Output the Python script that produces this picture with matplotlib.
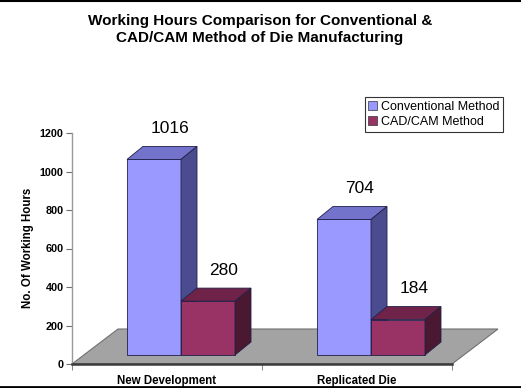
import matplotlib
matplotlib.use("Agg")
import matplotlib.pyplot as plt
from matplotlib.patches import Polygon, Patch
from matplotlib.lines import Line2D

plt.rcParams['font.family'] = ['Liberation Sans', 'DejaVu Sans']

categories = ["New Development", "Replicated Die"]
series_names = ["Conventional Method", "CAD/CAM Method"]
conventional = [1016, 704]
cadcam = [280, 184]
y_ticks = [0, 200, 400, 600, 800, 1000, 1200]

title = "Working Hours Comparison for Conventional &\nCAD/CAM Method of Die Manufacturing"
ylabel = "No. Of Working Hours"

# colours: front, top, side
colors = {
    "Conventional Method": ("#9999FF", "#7373CC", "#4B4B8F"),
    "CAD/CAM Method": ("#993366", "#702348", "#4A1830"),
}

W, H = 521, 388
fig = plt.figure(figsize=(W / 100, H / 100), dpi=100)
ax_left, ax_right, ax_bottom, ax_top = 72, 452, 364, 133
ax = fig.add_axes([ax_left / W, 1 - ax_bottom / H, (ax_right - ax_left) / W, (ax_bottom - ax_top) / H])
ax.set_xlim(0, len(categories))
ax.set_ylim(0, 1200)

pxx = (ax_right - ax_left) / len(categories)   # px per x-unit
pxy = (ax_bottom - ax_top) / 1200.0           # px per y-unit

def dx(px):
    return px / pxx

def dy(px):
    return px / pxy

floor_d = (dx(46), dy(35))
front_off = (dx(14), dy(9))
bar_d = (dx(16), dy(13))
bar_w = dx(54)

# floor
floor = Polygon([(0, 0), (len(categories), 0),
                 (len(categories) + floor_d[0], floor_d[1]), (floor_d[0], floor_d[1])],
                closed=True, facecolor="#A3A3A3", edgecolor="#707070", lw=0.8,
                clip_on=False, zorder=1)
ax.add_patch(floor)

def draw_bar(x0, value, cols):
    front, top, side = cols
    y0 = front_off[1]
    x1 = x0 + bar_w
    y1 = y0 + value
    ec = "#20204A"
    ax.add_patch(Polygon([(x0, y0), (x1, y0), (x1, y1), (x0, y1)], closed=True,
                         facecolor=front, edgecolor=ec, lw=0.6, clip_on=False, zorder=2))
    ax.add_patch(Polygon([(x0, y1), (x1, y1), (x1 + bar_d[0], y1 + bar_d[1]),
                          (x0 + bar_d[0], y1 + bar_d[1])], closed=True,
                         facecolor=top, edgecolor=ec, lw=0.6, clip_on=False, zorder=2))
    ax.add_patch(Polygon([(x1, y0), (x1 + bar_d[0], y0 + bar_d[1]),
                          (x1 + bar_d[0], y1 + bar_d[1]), (x1, y1)], closed=True,
                         facecolor=side, edgecolor=ec, lw=0.6, clip_on=False, zorder=2))
    ax.annotate(f"{value}", xy=((x0 + x1) / 2 + bar_d[0], y1 + bar_d[1]),
                xytext=(0, 13), textcoords="offset points", ha="center", va="center",
                fontsize=12.5, color="black", annotation_clip=False, zorder=5)

for i, cat in enumerate(categories):
    c = i + 0.5 + front_off[0]
    draw_bar(c - bar_w, conventional[i], colors[series_names[0]])
    draw_bar(c, cadcam[i], colors[series_names[1]])

# axes styling
for s in ["top", "right"]:
    ax.spines[s].set_visible(False)
ax.spines["left"].set_color("#9A9A9A")
ax.spines["left"].set_linewidth(1.0)
ax.spines["bottom"].set_color("#3A3A3A")
ax.spines["bottom"].set_linewidth(1.8)
ax.spines["bottom"].set_zorder(3)
ax.set_facecolor("none")

ax.set_yticks(y_ticks)
ax.set_yticklabels([str(t) for t in y_ticks], fontsize=7.8, fontweight="bold")
ax.tick_params(axis="y", direction="out", length=4, color="#707070", pad=2)
ax.set_xticks([i + 0.5 for i in range(len(categories))])
ax.set_xticklabels(categories, fontsize=8.3, fontweight="bold")
ax.set_xticks(list(range(len(categories) + 1)), minor=True)
ax.tick_params(axis="x", which="major", length=0, pad=8)
ax.tick_params(axis="x", which="minor", direction="out", length=4, color="#707070")

fig.text(28 / W, 1 - 248 / H, ylabel, rotation=90, ha="center", va="center",
         fontsize=8.3, fontweight="bold")

fig.text(260 / W, 1 - 29.5 / H, title, ha="center", va="center", fontsize=11,
         fontweight="bold", linespacing=1.3)

handles = [Patch(facecolor=colors[n][0], edgecolor="#333333", lw=0.5) for n in series_names]
leg = fig.legend(handles, series_names, loc="upper right",
                 bbox_to_anchor=(503 / W, 1 - 97 / H), bbox_transform=fig.transFigure,
                 fontsize=9, frameon=True, fancybox=False, handlelength=0.7,
                 handleheight=0.7, handletextpad=0.3, borderpad=0.3, labelspacing=0.25,
                 borderaxespad=0)
leg.get_frame().set_edgecolor("black")
leg.get_frame().set_linewidth(0.8)

# slide border lines top and bottom
fig.add_artist(Line2D([0, 1], [1 - 1 / H, 1 - 1 / H], transform=fig.transFigure, color="black", lw=1.5))
fig.add_artist(Line2D([0, 1], [1.5 / H, 1.5 / H], transform=fig.transFigure, color="black", lw=2))

fig.savefig("out.png", dpi=100)
